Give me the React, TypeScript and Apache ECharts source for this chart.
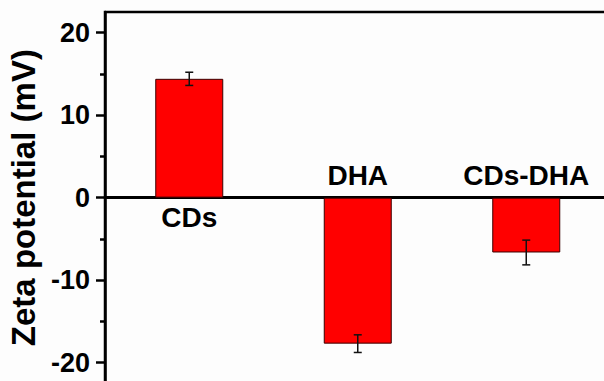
import React, { useEffect, useRef } from "react";
import * as echarts from "echarts";

const categories = ["CDs", "DHA", "CDs-DHA"];
const zetaValues = [14.4, -17.7, -6.65];
const zetaErrors = [0.8, 1.07, 1.5];
const yMajorTicks = [-20, -10, 0, 10, 20];
const yMinorTicks = [-15, -5, 5, 15];
const yMin = -22.5;
const yMax = 22.5;
const yTitle = "Zeta potential (mV)";

const FONT = "'Liberation Sans', Arial, Helvetica, sans-serif";

export default function App() {
  const ref = useRef<HTMLDivElement>(null);

  useEffect(() => {
    if (!ref.current) return;
    const chart = echarts.init(ref.current, null, { renderer: "svg" });

    const errorData = zetaValues.map((v, i) => [i, v - zetaErrors[i], v + zetaErrors[i]]);
    const labelData = categories.map((c, i) => ({
      value: [i, 0],
      name: c,
      label: {
        position: zetaValues[i] >= 0 ? "bottom" : "top",
        distance: zetaValues[i] >= 0 ? 6 : 8,
      },
    }));

    chart.setOption({
      animation: false,
      backgroundColor: "#fdfdfd",
      grid: {
        left: 105,
        top: 12,
        width: 505.5,
        height: 371.25,
        outerBoundsMode: "none",
        containLabel: false,
        show: true,
        borderColor: "#000",
        borderWidth: 2.5,
        backgroundColor: "transparent",
      },
      xAxis: {
        type: "category",
        data: categories,
        boundaryGap: true,
        axisLine: { onZero: true, lineStyle: { color: "#000", width: 3 } },
        axisTick: { show: false },
        axisLabel: { show: false },
        splitLine: { show: false },
      },
      yAxis: [
        {
          type: "value",
          min: yMin,
          max: yMax,
          position: "left",
          name: yTitle,
          nameLocation: "middle",
          nameGap: 58,
          nameTextStyle: {
            fontFamily: FONT,
            fontWeight: "bold",
            fontSize: 33,
            color: "#000",
          },
          axisLine: { show: true, onZero: false, lineStyle: { color: "#000", width: 2.5 } },
          axisTick: {
            show: true,
            inside: false,
            length: 9,
            customValues: yMajorTicks,
            lineStyle: { color: "#000", width: 2.5 },
          },
          axisLabel: {
            customValues: yMajorTicks,
            margin: 15,
            fontFamily: FONT,
            fontWeight: "bold",
            fontSize: 27,
            color: "#000",
          },
          splitLine: { show: false },
        },
        {
          type: "value",
          min: yMin,
          max: yMax,
          position: "left",
          axisLine: { show: false },
          axisTick: {
            show: true,
            inside: false,
            length: 5,
            customValues: yMinorTicks,
            lineStyle: { color: "#000", width: 2.5 },
          },
          axisLabel: { show: false },
          splitLine: { show: false },
        },
      ],
      series: [
        {
          type: "bar",
          data: zetaValues,
          barWidth: 68,
          itemStyle: { color: "#ff0000", borderColor: "#3a0000", borderWidth: 1 },
          z: 2,
        },
        {
          type: "custom",
          data: errorData,
          z: 3,
          renderItem: (params: any, api: any) => {
            const x = api.value(0);
            const lo = api.coord([x, api.value(1)]);
            const hi = api.coord([x, api.value(2)]);
            const hw = 4;
            const style = { stroke: "#111", lineWidth: 1.5, fill: "none" };
            return {
              type: "group",
              children: [
                { type: "line", shape: { x1: lo[0], y1: lo[1], x2: hi[0], y2: hi[1] }, style },
                { type: "line", shape: { x1: lo[0] - hw, y1: lo[1], x2: lo[0] + hw, y2: lo[1] }, style },
                { type: "line", shape: { x1: hi[0] - hw, y1: hi[1], x2: hi[0] + hw, y2: hi[1] }, style },
              ],
            };
          },
        },
        {
          type: "scatter",
          data: labelData,
          symbolSize: 0,
          silent: true,
          z: 4,
          itemStyle: { color: "#000", opacity: 1 },
          label: {
            show: true,
            formatter: (p: any) => p.name,
            fontFamily: FONT,
            fontWeight: "bold",
            fontSize: 28,
            color: "#000",
            opacity: 1,
          },
        },
      ],
    });

    return () => chart.dispose();
  }, []);

  return (
    <div
      ref={ref}
      style={{ position: "absolute", left: 0, top: 0, width: 604, height: 381 }}
    />
  );
}
